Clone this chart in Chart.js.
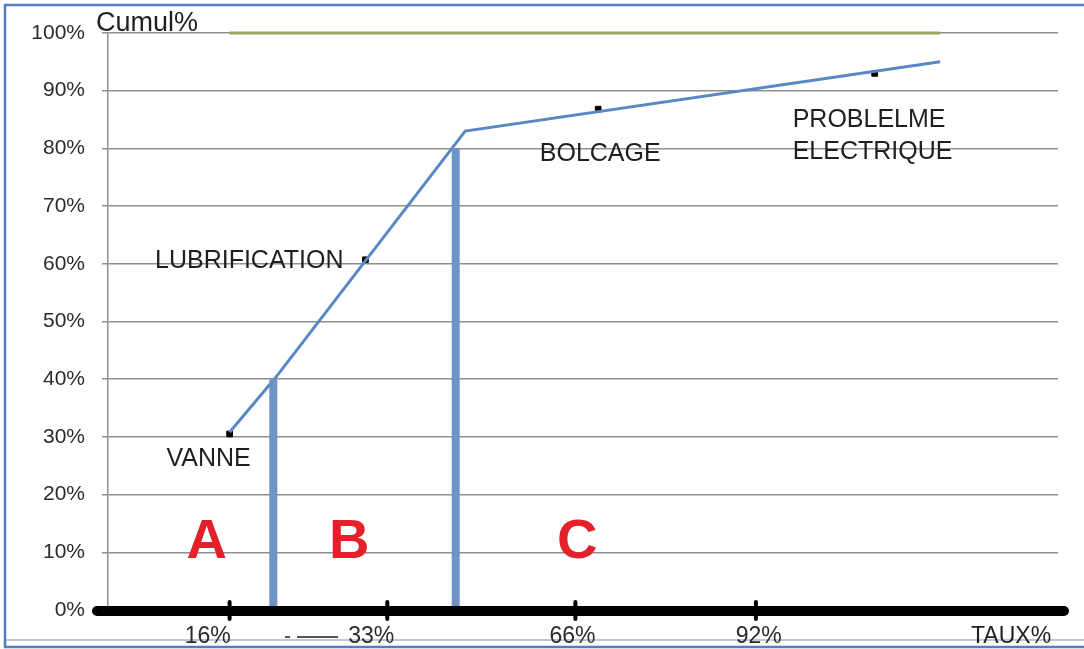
<!DOCTYPE html>
<html>
<head>
<meta charset="utf-8">
<script src="https://cdn.jsdelivr.net/npm/chart.js@4.4.1/dist/chart.umd.min.js"></script>
<style>
    html, body { margin: 0; padding: 0; background: #ffffff; }
    #wrap { position: relative; width: 1084px; height: 649px; }
</style>
</head>
<body>
<div id="wrap"><canvas id="paretoChart" width="1084" height="649"></canvas></div>
<script>
// x is the position along the Pareto axis, y the cumulative percentage
const xTickPos = [12.8, 29.4, 49.2, 68.2];
const xTickLabels = ['16%', '33%', '66%', '92%'];
const xLabelPos = [10.5, 27.7, 48.9, 68.5];

const curveX = [12.8, 17.6, 37.6, 87.6];
const curveY = [30.8, 40.2, 83.0, 95.0];

const defectNames = ['VANNE', 'LUBRIFICATION', 'BOLCAGE', 'PROBLELME ELECTRIQUE'];
const defectX = [12.8, 27.1, 51.6, 80.7];
const defectY = [30.5, 60.7, 86.8, 93.0];

const targetX = [12.8, 87.6];
const targetY = [100, 100];

// class limits A|B and B|C
const limitX = [17.4, 36.6];
const limitY = [40, 80];

const classNames = ['A', 'B', 'C'];
const classX = [10.4, 25.4, 49.4];
const classY = [12.5, 12.5, 12.5];

const toPoints = (xs, ys) => xs.map((x, i) => ({ x: x, y: ys[i] }));
const FONT = '"Liberation Sans", Arial, sans-serif';

// Frame, thick axis, ticks and the text annotations
const decorPlugin = {
    id: 'decor',
    beforeDraw(chart) {
        const ctx = chart.ctx;
        ctx.save();
        ctx.fillStyle = '#ffffff';
        ctx.fillRect(0, 0, chart.width, chart.height);
        ctx.restore();
    },
    afterDatasetsDraw(chart) {
        const ctx = chart.ctx;
        const xs = chart.scales.x;
        const ys = chart.scales.y;
        const y0 = ys.getPixelForValue(0);

        ctx.save();
        // outer frame
        ctx.strokeStyle = '#4f7fc0';
        ctx.lineWidth = 2.5;
        ctx.beginPath();
        ctx.moveTo(chart.width + 5, 5);
        ctx.lineTo(5, 5);
        ctx.lineTo(5, 647);
        ctx.lineTo(chart.width + 5, 647);
        ctx.stroke();

        // thin line under the tick labels
        ctx.strokeStyle = '#8c8c8c';
        ctx.lineWidth = 1.2;
        ctx.beginPath();
        ctx.moveTo(6, 640);
        ctx.lineTo(chart.width, 640);
        ctx.stroke();

        // small stray dash
        ctx.strokeStyle = '#222';
        ctx.lineWidth = 1.5;
        ctx.beginPath();
        ctx.moveTo(285, 637);
        ctx.lineTo(290, 637);
        ctx.moveTo(297, 637);
        ctx.lineTo(338, 637);
        ctx.stroke();

        // thick horizontal axis
        ctx.strokeStyle = '#000';
        ctx.lineWidth = 10;
        ctx.lineCap = 'round';
        ctx.beginPath();
        ctx.moveTo(97, y0 + 1);
        ctx.lineTo(1064, y0 + 1);
        ctx.stroke();

        // tick marks
        ctx.lineWidth = 4;
        xTickPos.forEach(v => {
            const px = xs.getPixelForValue(v);
            ctx.beginPath();
            ctx.moveTo(px, y0 - 8);
            ctx.lineTo(px, y0 + 9);
            ctx.stroke();
        });

        // x tick labels
        ctx.fillStyle = '#2b2b2b';
        ctx.font = '23px ' + FONT;
        ctx.textAlign = 'center';
        ctx.textBaseline = 'alphabetic';
        xTickLabels.forEach((t, i) => {
            ctx.fillText(t, xs.getPixelForValue(xLabelPos[i]), 643);
        });

        // defect labels
        ctx.fillStyle = '#1f1f1f';
        ctx.font = '25px ' + FONT;
        ctx.textBaseline = 'middle';
        const px = i => xs.getPixelForValue(defectX[i]);
        const py = i => ys.getPixelForValue(defectY[i]);
        ctx.textAlign = 'center';
        ctx.fillText(defectNames[0], px(0) - 21, py(0) + 25);
        ctx.textAlign = 'right';
        ctx.fillText(defectNames[1], px(1) - 22, py(1) + 1);
        ctx.textAlign = 'center';
        ctx.fillText(defectNames[2], px(2) + 2, py(2) + 45);
        ctx.textAlign = 'left';
        const parts = defectNames[3].split(' ');
        ctx.fillText(parts[0], px(3) - 82, py(3) + 47);
        ctx.fillText(parts[1], px(3) - 82, py(3) + 79);

        // class letters
        ctx.fillStyle = '#e4202b';
        ctx.font = 'bold 56px ' + FONT;
        ctx.textAlign = 'center';
        classNames.forEach((c, i) => {
            ctx.fillText(c, xs.getPixelForValue(classX[i]), ys.getPixelForValue(classY[i]) + 5);
        });

        // axis titles
        ctx.fillStyle = '#1f1f1f';
        ctx.font = '27px ' + FONT;
        ctx.textAlign = 'left';
        ctx.textBaseline = 'alphabetic';
        ctx.fillText('Cumul%', 96, 31);
        ctx.font = '23px ' + FONT;
        ctx.fillText('TAUX%', 971, 643);
        ctx.restore();
    }
};

const ctx = document.getElementById('paretoChart').getContext('2d');
const paretoChart = new Chart(ctx, {
    type: 'scatter',
    data: {
        datasets: [
            {
                label: 'Limites',
                data: [
                    { x: limitX[0], y: 0 }, { x: limitX[0], y: limitY[0] }, { x: null, y: null },
                    { x: limitX[1], y: 0 }, { x: limitX[1], y: limitY[1] }
                ],
                showLine: true,
                spanGaps: false,
                borderColor: '#6d93c7',
                borderWidth: 8,
                pointRadius: 0
            },
            {
                label: '100%',
                data: toPoints(targetX, targetY),
                showLine: true,
                clip: false,
                borderColor: '#96a862',
                borderWidth: 3,
                pointRadius: 0
            },
            {
                label: 'Cumul',
                data: toPoints(curveX, curveY),
                showLine: true,
                borderColor: '#5a88c4',
                borderWidth: 3,
                pointRadius: 0
            },
            {
                label: 'Défauts',
                data: toPoints(defectX, defectY),
                backgroundColor: '#000',
                borderColor: '#000',
                pointStyle: 'rect',
                pointRadius: 4
            }
        ]
    },
    options: {
        responsive: false,
        animation: false,
        layout: { padding: { left: 8, right: 26, top: 33, bottom: 0 } },
        plugins: {
            legend: { display: false },
            tooltip: { enabled: false }
        },
        scales: {
            x: {
                type: 'linear',
                min: 0,
                max: 100,
                afterFit(scale) { scale.height = 39; },
                ticks: { display: false },
                grid: { display: false },
                border: { display: false }
            },
            y: {
                min: 0,
                max: 100,
                afterFit(scale) { scale.width = 100; },
                ticks: {
                    stepSize: 10,
                    color: '#2b2b2b',
                    font: { family: FONT, size: 21 },
                    padding: 17,
                    callback: v => v + '%'
                },
                grid: { color: '#8f8f8f', lineWidth: 1.5, tickLength: 6 },
                border: { display: true, color: '#8f8f8f', width: 1.5 }
            }
        }
    },
    plugins: [decorPlugin]
});
</script>
</body>
</html>
